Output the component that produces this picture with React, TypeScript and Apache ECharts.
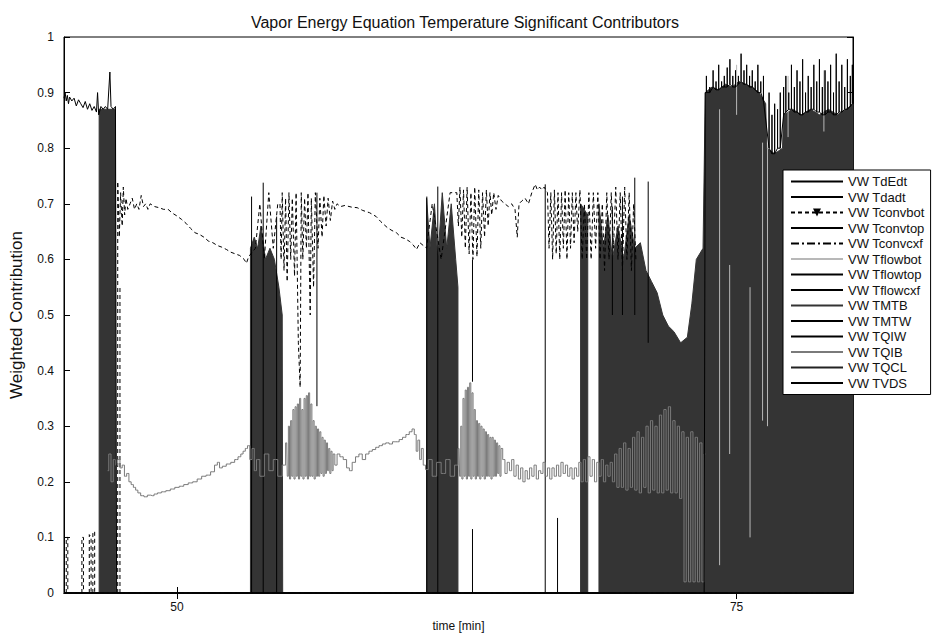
import React, { useEffect, useRef } from "react";
import * as echarts from "echarts";

type P = [number, number] | null;

const xTickValues = [50, 75];
const legendNames = [
  "VW TdEdt", "VW Tdadt", "VW Tconvbot", "VW Tconvtop", "VW Tconvcxf",
  "VW Tflowbot", "VW Tflowtop", "VW Tflowcxf", "VW TMTB", "VW TMTW",
  "VW TQIW", "VW TQIB", "VW TQCL", "VW TVDS",
];

// Upper plateau at the start
const tdEdtStart: P[] = [
  [44.95, 0.89], [45.0, 0.9], [45.05, 0.885], [45.1, 0.895], [45.15, 0.88], [45.2, 0.892], [45.3, 0.885],
  [45.4, 0.89], [45.5, 0.876], [45.6, 0.887], [45.7, 0.88], [45.8, 0.873], [45.9, 0.884], [46.0, 0.87],
  [46.1, 0.88], [46.2, 0.868], [46.3, 0.875], [46.4, 0.865], [46.45, 0.9], [46.5, 0.86], [46.6, 0.875],
  [46.7, 0.87], [46.8, 0.875], [46.9, 0.87], [47.0, 0.937], [47.05, 0.875], [47.15, 0.87], [47.25, 0.875],
  [47.3, 0.0],
];
// Spikes on top of the final block: [time, base, peak]
const tdEdtSpikes: [number, number, number][] = [
  [73.65, 0.9, 0.93], [73.8, 0.9, 0.91], [73.95, 0.91, 0.94], [74.08, 0.905, 0.92], [74.2, 0.905, 0.95],
  [74.33, 0.91, 0.92], [74.45, 0.91, 0.93], [74.58, 0.91, 0.945], [74.7, 0.915, 0.96], [74.83, 0.91, 0.93],
  [74.95, 0.91, 0.94], [75.08, 0.915, 0.93], [75.2, 0.92, 0.97], [75.33, 0.915, 0.94], [75.45, 0.915, 0.95],
  [75.58, 0.91, 0.93], [75.7, 0.91, 0.94], [75.83, 0.905, 0.92], [75.95, 0.9, 0.95], [76.08, 0.9, 0.92],
  [76.2, 0.885, 0.93], [76.45, 0.8, 0.9], [76.58, 0.79, 0.86], [76.7, 0.79, 0.88], [76.83, 0.8, 0.87],
  [76.95, 0.8, 0.9], [77.1, 0.86, 0.91], [77.2, 0.865, 0.93], [77.33, 0.87, 0.9], [77.45, 0.87, 0.95],
  [77.58, 0.865, 0.91], [77.7, 0.865, 0.94], [77.83, 0.86, 0.92], [77.95, 0.86, 0.96], [78.08, 0.865, 0.9],
  [78.2, 0.865, 0.93], [78.33, 0.87, 0.91], [78.45, 0.87, 0.95], [78.58, 0.865, 0.92], [78.7, 0.865, 0.96],
  [78.83, 0.86, 0.91], [78.95, 0.86, 0.94], [79.08, 0.865, 0.92], [79.2, 0.865, 0.95], [79.33, 0.86, 0.9],
  [79.45, 0.86, 0.97], [79.58, 0.865, 0.92], [79.7, 0.865, 0.95], [79.83, 0.87, 0.91], [79.95, 0.87, 0.96],
  [80.08, 0.875, 0.93], [80.17, 0.88, 0.95],
];

// Isolated vertical switching lines
const tdadt: P[] = [
  [53.33, 0], [53.33, 0.713], null, [53.85, 0], [53.85, 0.738], null, [54.45, 0], [54.45, 0.677], null,
  [56.25, 0.336], [56.25, 0.72], null, [61.16, 0], [61.16, 0.713], null, [61.65, 0], [61.65, 0.731], null,
  [63.2, 0], [63.2, 0.115], null, [63.2, 0.38], [63.2, 0.6], null, [66.45, 0], [66.45, 0.735], null,
  [67.0, 0], [67.0, 0.135], null, [69.45, 0.5], [69.45, 0.695], null, [69.9, 0.5], [69.9, 0.713], null,
  [70.45, 0.5], [70.45, 0.747], null, [71.05, 0.45], [71.05, 0.74],
];

// Dashed convective curve (~0.6-0.74) with its braided switching
const tconvbot: P[] = [
  [45.05, 0], [45.05, 0.1], [45.12, 0.1], [45.12, 0], null,
  [45.75, 0], [45.75, 0.1], [45.82, 0.1], [45.82, 0], null,
  [46.08, 0], [46.08, 0.105], [46.16, 0.1], [46.16, 0], [46.24, 0], [46.24, 0.11], [46.32, 0.11], [46.32, 0], null,
  [47.45, 0], [47.45, 0.55], null,
  [47.35, 0], [47.35, 0.74], [47.42, 0.64], [47.48, 0.72], [47.55, 0.66], [47.6, 0.73], [47.66, 0.68], [47.72, 0.71],
  [47.8, 0.69], [47.9, 0.7], [48.0, 0.71], [48.1, 0.69], [48.2, 0.7], [48.3, 0.69], [48.4, 0.715], [48.5, 0.695],
  [48.6, 0.7], [48.7, 0.69], [48.8, 0.7], [49.0, 0.695], [49.2, 0.693], [49.4, 0.69], [49.6, 0.69], [49.8, 0.683],
  [50.0, 0.678], [50.2, 0.672], [50.4, 0.665], [50.6, 0.656], [50.8, 0.648], [51.0, 0.645], [51.2, 0.64],
  [51.4, 0.633], [51.6, 0.63], [51.8, 0.625], [52.0, 0.622], [52.2, 0.618], [52.4, 0.613], [52.6, 0.61],
  [52.8, 0.607], [53.0, 0.6], [53.1, 0.593], [53.2, 0.605], [53.3, 0.61], [53.5, 0.62], [53.7, 0.7], [53.9, 0.6],
  [54.1, 0.72], [54.3, 0.62], [54.5, 0.7],
  [54.6, 0.7], [54.65, 0.6], [54.7, 0.72], [54.78, 0.58], [54.85, 0.71], [54.92, 0.56], [55.0, 0.72], [55.08, 0.6],
  [55.15, 0.71], [55.25, 0.57], [55.32, 0.72], [55.42, 0.45], [55.5, 0.37], [55.55, 0.72], [55.62, 0.6], [55.7, 0.71],
  [55.78, 0.62], [55.85, 0.72], [55.95, 0.5], [56.0, 0.71], [56.1, 0.55], [56.18, 0.72], [56.3, 0.62], [56.38, 0.71],
  [56.48, 0.64], [56.56, 0.715], [56.66, 0.66], [56.75, 0.71], [56.85, 0.67], [56.95, 0.705], [57.05, 0.69],
  [57.15, 0.7], [57.3, 0.695], [57.5, 0.697], [57.8, 0.694], [58.05, 0.693], [58.3, 0.688], [58.6, 0.684],
  [58.9, 0.677], [59.1, 0.668], [59.4, 0.657], [59.6, 0.652], [59.8, 0.648], [60.0, 0.64], [60.2, 0.637],
  [60.4, 0.632], [60.55, 0.626], [60.7, 0.618], [60.85, 0.63], [61.0, 0.625], [61.15, 0.62], [61.4, 0.7],
  [61.8, 0.6], [62.2, 0.72],
  [62.5, 0.72], [62.57, 0.66], [62.64, 0.73], [62.72, 0.64], [62.8, 0.725], [62.88, 0.62], [62.96, 0.73],
  [63.05, 0.61], [63.13, 0.72], [63.22, 0.6], [63.3, 0.73], [63.4, 0.605], [63.48, 0.725], [63.57, 0.62],
  [63.65, 0.72], [63.74, 0.64], [63.82, 0.725], [63.9, 0.66], [63.98, 0.72], [64.06, 0.68], [64.15, 0.72],
  [64.25, 0.69], [64.35, 0.715], [64.5, 0.705], [64.65, 0.7], [64.8, 0.695], [64.95, 0.7], [65.1, 0.69],
  [65.2, 0.64], [65.28, 0.7], [65.4, 0.705], [65.55, 0.71], [65.7, 0.7], [65.85, 0.72], [66.0, 0.735],
  [66.1, 0.725], [66.2, 0.73], [66.3, 0.725], [66.4, 0.73],
  [66.55, 0.72], [66.62, 0.62], [66.7, 0.72], [66.78, 0.6], [66.86, 0.725], [66.94, 0.61], [67.02, 0.72],
  [67.1, 0.6], [67.18, 0.72], [67.26, 0.62], [67.34, 0.725], [67.42, 0.6], [67.5, 0.72], [67.58, 0.62],
  [67.66, 0.72], [67.74, 0.63], [67.82, 0.72], [67.9, 0.65], [68.0, 0.725], [68.1, 0.6], [68.2, 0.7],
  [68.3, 0.6], [68.4, 0.72], [68.5, 0.6], [68.6, 0.72], [68.7, 0.62], [68.8, 0.72], [68.9, 0.6], [69.0, 0.7],
  [69.1, 0.58], [69.2, 0.72], [69.3, 0.6], [69.4, 0.72], [69.5, 0.62], [69.6, 0.73], [69.7, 0.6], [69.8, 0.72],
  [69.9, 0.58], [70.0, 0.73], [70.1, 0.6], [70.2, 0.72], [70.3, 0.58], [70.4, 0.7], [70.5, 0.6],
];

// Dense switching blocks (envelopes of the solid dark regions)
const tmtb: P[] = [
  [46.52, 0], [46.52, 0.87], [47.25, 0.87], [47.25, 0], null,
  [53.28, 0], [53.28, 0.62], [53.45, 0.64], [53.6, 0.62], [53.75, 0.66], [53.95, 0.6], [54.15, 0.62],
  [54.35, 0.6], [54.55, 0.55], [54.7, 0.5], [54.72, 0], null,
  [61.15, 0], [61.15, 0.71], [61.3, 0.62], [61.5, 0.7], [61.65, 0.6], [61.85, 0.72], [62.05, 0.62],
  [62.25, 0.7], [62.45, 0.6], [62.55, 0.55], [62.55, 0], null,
  [68.03, 0], [68.03, 0.7], [68.35, 0.68], [68.35, 0], null,
  [68.85, 0], [68.85, 0.7], [69.05, 0.62], [69.25, 0.68], [69.45, 0.6], [69.7, 0.66], [69.95, 0.6],
  [70.2, 0.68], [70.45, 0.62], [70.7, 0.63], [70.95, 0.58], [71.2, 0.56], [71.45, 0.54], [71.7, 0.5],
  [71.95, 0.48], [72.2, 0.47], [72.5, 0.45], [72.8, 0.46], [73.0, 0.52], [73.2, 0.6], [73.5, 0.62],
  [73.6, 0.9], [73.9, 0.91], [74.2, 0.905], [74.5, 0.915], [74.8, 0.91], [75.1, 0.92], [75.4, 0.915],
  [75.7, 0.91], [76.0, 0.9], [76.3, 0.88], [76.35, 0.8], [76.7, 0.79], [77.05, 0.8], [77.1, 0.86],
  [77.5, 0.87], [77.9, 0.86], [78.3, 0.87], [78.7, 0.86], [79.1, 0.87], [79.5, 0.86], [79.9, 0.87],
  [80.2, 0.88], [80.2, 0],
];

// Light switching lines inside the final block
const tflowbot: P[] = [
  [74.24, 0.05], [74.24, 0.87], null, [74.69, 0.25], [74.69, 0.59], null, [75.0, 0.86], [75.0, 0.95], null,
  [75.6, 0.1], [75.6, 0.55], null, [76.16, 0.31], [76.16, 0.81], null, [76.38, 0.3], [76.38, 0.8], null,
  [77.3, 0.82], [77.3, 0.93], null, [78.9, 0.83], [78.9, 0.94],
];

// Grey curve around 0.2 with its bursts
const tqib: P[] = [
  [46.9, 0.22], [47.0, 0.25], [47.1, 0.2], [47.2, 0.24], [47.3, 0.23], [47.4, 0.24], [47.5, 0.225], [47.6, 0.23],
  [47.7, 0.21], [47.8, 0.215], [47.9, 0.2], [48.0, 0.195], [48.1, 0.19], [48.2, 0.185], [48.3, 0.18],
  [48.45, 0.175], [48.6, 0.173], [48.75, 0.176], [48.9, 0.175], [49.05, 0.178], [49.2, 0.18], [49.4, 0.182],
  [49.6, 0.184], [49.8, 0.187], [50.0, 0.19], [50.2, 0.192], [50.4, 0.195], [50.6, 0.198], [50.8, 0.2],
  [51.0, 0.205], [51.2, 0.21], [51.4, 0.212], [51.6, 0.218], [51.75, 0.23], [51.85, 0.235], [51.95, 0.225],
  [52.1, 0.228], [52.3, 0.232], [52.5, 0.235], [52.65, 0.24], [52.8, 0.245], [52.9, 0.25], [53.0, 0.255],
  [53.1, 0.26], [53.2, 0.265], [53.3, 0.24], [53.4, 0.26], [53.5, 0.22], [53.6, 0.24], [53.8, 0.21],
  [54.0, 0.25], [54.2, 0.22], [54.4, 0.24], [54.6, 0.21], [54.8, 0.23],
  [54.9, 0.27], [54.95, 0.21], [55.0, 0.3], [55.05, 0.205], [55.1, 0.31], [55.15, 0.21], [55.2, 0.33],
  [55.25, 0.205], [55.3, 0.335], [55.35, 0.21], [55.4, 0.34], [55.45, 0.205], [55.5, 0.35], [55.55, 0.21],
  [55.6, 0.33], [55.65, 0.205], [55.7, 0.35], [55.75, 0.21], [55.8, 0.355], [55.85, 0.205], [55.9, 0.36],
  [55.95, 0.21], [56.0, 0.34], [56.05, 0.21], [56.1, 0.31], [56.15, 0.205], [56.2, 0.3], [56.25, 0.21],
  [56.3, 0.295], [56.35, 0.21], [56.4, 0.29], [56.45, 0.215], [56.5, 0.28], [56.55, 0.21], [56.6, 0.275],
  [56.65, 0.215], [56.7, 0.27], [56.75, 0.22], [56.8, 0.26], [56.85, 0.215], [56.9, 0.255], [56.95, 0.22],
  [57.0, 0.25], [57.1, 0.23],
  [57.2, 0.25], [57.35, 0.245], [57.5, 0.24], [57.65, 0.225], [57.75, 0.22], [57.9, 0.235], [58.05, 0.245],
  [58.2, 0.25], [58.35, 0.24], [58.5, 0.25], [58.65, 0.255], [58.8, 0.258], [58.95, 0.262], [59.1, 0.265],
  [59.25, 0.268], [59.4, 0.27], [59.55, 0.268], [59.7, 0.272], [59.85, 0.272], [60.0, 0.276], [60.15, 0.28],
  [60.3, 0.285], [60.45, 0.29], [60.55, 0.295], [60.65, 0.285], [60.72, 0.255], [60.8, 0.275], [60.88, 0.24],
  [60.95, 0.26], [61.05, 0.23], [61.15, 0.222], [61.3, 0.24], [61.5, 0.21], [61.7, 0.235], [61.9, 0.215],
  [62.1, 0.24], [62.3, 0.21], [62.5, 0.23],
  [62.6, 0.26], [62.65, 0.21], [62.7, 0.3], [62.75, 0.205], [62.8, 0.35], [62.85, 0.21], [62.9, 0.365],
  [62.95, 0.205], [63.0, 0.37], [63.05, 0.21], [63.1, 0.378], [63.15, 0.205], [63.2, 0.36], [63.25, 0.21],
  [63.3, 0.33], [63.35, 0.205], [63.4, 0.31], [63.45, 0.21], [63.5, 0.305], [63.55, 0.205], [63.6, 0.3],
  [63.65, 0.21], [63.7, 0.295], [63.75, 0.205], [63.8, 0.29], [63.85, 0.21], [63.9, 0.285], [63.95, 0.21],
  [64.0, 0.28], [64.05, 0.205], [64.1, 0.28], [64.15, 0.21], [64.2, 0.275], [64.25, 0.21], [64.3, 0.27],
  [64.35, 0.215], [64.4, 0.265], [64.45, 0.21], [64.5, 0.26],
  [64.6, 0.24], [64.7, 0.215], [64.8, 0.235], [64.9, 0.22], [65.0, 0.24], [65.1, 0.21], [65.2, 0.23],
  [65.3, 0.205], [65.4, 0.225], [65.5, 0.2], [65.6, 0.22], [65.7, 0.205], [65.8, 0.225], [65.9, 0.21],
  [66.0, 0.23], [66.1, 0.205], [66.2, 0.22], [66.3, 0.215], [66.4, 0.235], [66.5, 0.21], [66.6, 0.225],
  [66.7, 0.205], [66.8, 0.225], [66.9, 0.21], [67.0, 0.23], [67.1, 0.21], [67.2, 0.235], [67.3, 0.215],
  [67.4, 0.23], [67.5, 0.21], [67.6, 0.225], [67.7, 0.205], [67.8, 0.225], [67.9, 0.21], [68.0, 0.235],
  [68.1, 0.2], [68.2, 0.24], [68.3, 0.2], [68.4, 0.245], [68.5, 0.21], [68.6, 0.24], [68.7, 0.2],
  [68.8, 0.235], [68.9, 0.21], [69.0, 0.24], [69.1, 0.2], [69.2, 0.23], [69.3, 0.21], [69.4, 0.235],
  [69.5, 0.2], [69.6, 0.25], [69.7, 0.19], [69.8, 0.26], [69.9, 0.19], [70.0, 0.27], [70.1, 0.185],
  [70.2, 0.26], [70.3, 0.19], [70.4, 0.28], [70.5, 0.185], [70.6, 0.29], [70.7, 0.18], [70.8, 0.28],
  [70.9, 0.19], [71.0, 0.3], [71.1, 0.18], [71.2, 0.31], [71.3, 0.185], [71.4, 0.3], [71.5, 0.18],
  [71.6, 0.32], [71.7, 0.18], [71.8, 0.33], [71.9, 0.185], [72.0, 0.335], [72.1, 0.18], [72.2, 0.31],
  [72.3, 0.18], [72.4, 0.3], [72.5, 0.17], [72.6, 0.29], [72.7, 0.02], [72.8, 0.28], [72.9, 0.02],
  [73.0, 0.29], [73.1, 0.02], [73.2, 0.28], [73.3, 0.02], [73.4, 0.27], [73.5, 0.02], [73.6, 0.25],
];

const flatZero: P[] = [[44.95, 0], [80.2, 0]];

const toData = (arr: P[]) => arr.map((p) => (p === null ? ["-", "-"] : p));

export default function App() {
  const ref = useRef<HTMLDivElement>(null);
  useEffect(() => {
    document.body.style.margin = "0";
    const chart = echarts.init(ref.current!, undefined, { renderer: "svg" });
    const font = "Liberation Sans, Arial, sans-serif";
    const base = (name: string, data: any[], color: string, extra: any = {}) => {
      const { lineStyle, ...rest } = extra;
      return {
        name,
        type: "line",
        data,
        symbol: "none",
        showSymbol: false,
        connectNulls: false,
        silent: true,
        itemStyle: { color },
        ...rest,
        lineStyle: { color, width: 1, ...(lineStyle || {}) },
      };
    };
    const tdEdtData: any[] = [...toData(tdEdtStart), ["-", "-"], [73.55, 0], [73.6, 0.9]];
    tdEdtSpikes.forEach(([t, b, p]) => {
      tdEdtData.push([t, b], [t, p], [t, b]);
    });
    const series: any[] = [
      base("VW TMTB", toData(tmtb), "#343434", { areaStyle: { color: "#343434", opacity: 1 } }),
      base("VW Tflowtop", toData(flatZero), "#000"),
      base("VW Tflowcxf", toData(flatZero), "#000"),
      base("VW TMTW", toData(flatZero), "#000", { lineStyle: { width: 1.5 } }),
      base("VW TQIW", toData(flatZero), "#000"),
      base("VW TQCL", toData(flatZero), "#222"),
      base("VW TVDS", toData(flatZero), "#000"),
      base("VW Tconvtop", toData(flatZero), "#000"),
      base("VW Tconvcxf", toData(flatZero), "#000", { lineStyle: { type: [8, 3, 2, 3] } }),
      base("VW Tconvbot", toData(tconvbot), "#000", {
        symbol: "triangle", symbolRotate: 180, symbolSize: 5,
        lineStyle: { type: [4, 3] },
      }),
      base("VW Tdadt", toData(tdadt), "#000"),
      base("VW Tflowbot", toData(tflowbot), "#b8b8b8"),
      base("VW TQIB", toData(tqib), "#7a7a7a", { step: "middle" }),
      base("VW TdEdt", tdEdtData, "#000"),
    ];
    chart.setOption({
      animation: false,
      backgroundColor: "#fff",
      title: {
        text: "Vapor Energy Equation Temperature Significant Contributors",
        left: 460, textAlign: "center", top: 9,
        textStyle: { fontSize: 16, fontWeight: "normal", color: "#111", fontFamily: font },
      },
      legend: {
        data: legendNames.map((n) => ({
          name: n,
          itemStyle: { opacity: n === "VW Tconvbot" ? 1 : 0 },
        })),
        orient: "vertical",
        left: 783, top: 170,
        padding: [5, 6, 5, 7],
        itemWidth: 52, itemHeight: 10, itemGap: 2.5,
        backgroundColor: "#fff", borderColor: "#000", borderWidth: 1,
        textStyle: { fontSize: 13, color: "#111", fontFamily: font, lineHeight: 10 },
        selectedMode: false,
      },
      grid: {
        left: 64, right: 80, top: 37, bottom: 43,
        show: true, borderColor: "#000", borderWidth: 1, backgroundColor: "#fff",
      },
      xAxis: [
        {
          type: "value", min: 44.95, max: 80.2,
          name: "time [min]", nameLocation: "middle", nameGap: 27,
          nameTextStyle: { fontSize: 12, color: "#111", fontFamily: font },
          axisLine: { show: true, lineStyle: { color: "#000" } },
          axisTick: { show: true, inside: true, length: 6, customValues: xTickValues, lineStyle: { color: "#000" } },
          axisLabel: { customValues: xTickValues, fontSize: 12, color: "#111", fontFamily: font, margin: 8 },
          splitLine: { show: false },
        },
        {
          type: "value", min: 44.95, max: 80.2, position: "top",
          axisLine: { show: true, lineStyle: { color: "#000" } },
          axisTick: { show: true, inside: true, length: 6, customValues: xTickValues, lineStyle: { color: "#000" } },
          axisLabel: { show: false },
          splitLine: { show: false },
        },
      ],
      yAxis: [
        {
          type: "value", min: 0, max: 1, interval: 0.1,
          name: "Weighted Contribution", nameLocation: "middle", nameGap: 39,
          nameTextStyle: { fontSize: 17, color: "#111", fontFamily: font },
          axisLine: { show: true, lineStyle: { color: "#000" } },
          axisTick: { show: true, inside: true, length: 6, lineStyle: { color: "#000" } },
          axisLabel: { fontSize: 12, color: "#111", fontFamily: font, margin: 10 },
          splitLine: { show: false },
        },
        {
          type: "value", min: 0, max: 1, interval: 0.1, position: "right",
          axisLine: { show: true, lineStyle: { color: "#000" } },
          axisTick: { show: true, inside: true, length: 6, lineStyle: { color: "#000" } },
          axisLabel: { show: false },
          splitLine: { show: false },
        },
      ],
      series,
    });
    return () => chart.dispose();
  }, []);
  return (
    <div
      ref={ref}
      style={{ position: "absolute", left: 0, top: 0, width: 933, height: 637 }}
    />
  );
}
